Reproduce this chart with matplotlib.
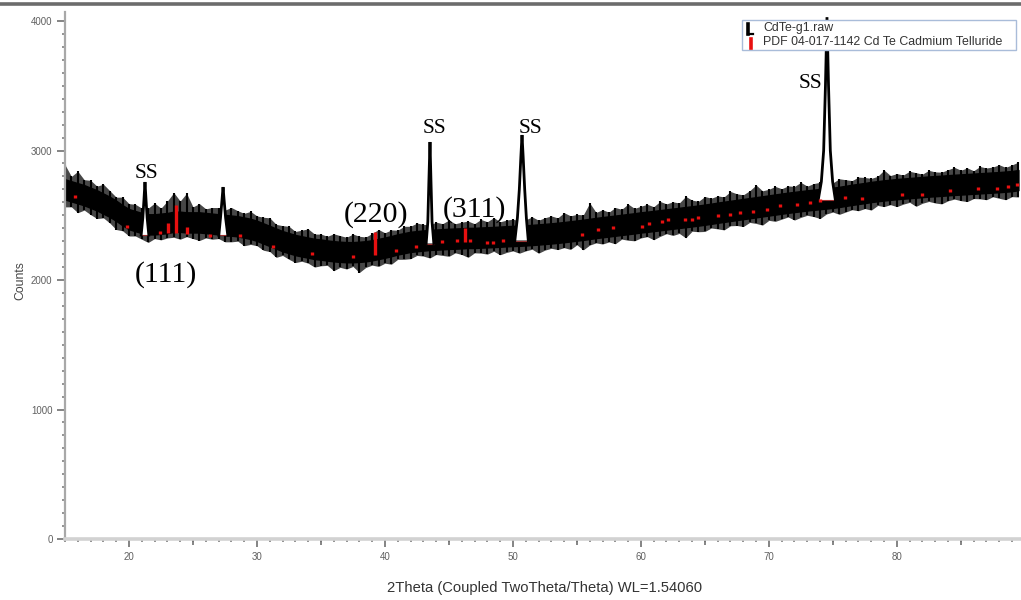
import numpy as np
import matplotlib
matplotlib.use("Agg")
import matplotlib.pyplot as plt
from matplotlib.lines import Line2D
from matplotlib.patches import Rectangle, Polygon
from matplotlib.ticker import MultipleLocator, FixedLocator
from matplotlib.transforms import offset_copy

plt.rcParams["font.family"] = ["Liberation Sans", "DejaVu Sans"]

# ---- measured pattern: CdTe-g1.raw -------------------------------------
# background level of the noisy scan, sampled every 0.5 deg from 15 deg
scan_start = 15.0
scan_step = 0.5
band_mid = [
    2700, 2685, 2670, 2655, 2635, 2615, 2590, 2565, 2535, 2500,
    2470, 2455, 2440, 2430, 2430, 2435, 2440, 2450, 2450, 2445,
    2445, 2445, 2440, 2435, 2430, 2425, 2420, 2415, 2405, 2395,
    2380, 2360, 2340, 2320, 2300, 2285, 2270, 2260, 2250, 2240,
    2235, 2228, 2222, 2218, 2215, 2215, 2218, 2222, 2230, 2240,
    2250, 2262, 2275, 2285, 2295, 2300, 2305, 2310, 2312, 2315,
    2318, 2320, 2322, 2325, 2325, 2328, 2330, 2332, 2335, 2338,
    2340, 2342, 2345, 2348, 2352, 2356, 2360, 2365, 2370, 2376,
    2382, 2388, 2395, 2402, 2408, 2414, 2420, 2426, 2432, 2438,
    2445, 2450, 2456, 2462, 2468, 2474, 2480, 2486, 2492, 2498,
    2505, 2512, 2520, 2527, 2534, 2541, 2548, 2555, 2562, 2569,
    2576, 2583, 2590, 2597, 2603, 2609, 2615, 2620, 2625, 2630,
    2635, 2642, 2650, 2658, 2665, 2672, 2680, 2686, 2692, 2697,
    2702, 2706, 2710, 2714, 2718, 2722, 2725, 2728, 2732, 2735,
    2738, 2741, 2744, 2747, 2750, 2753, 2756, 2760, 2764, 2772,
]
# upper / lower reach of the counting noise around that level
band_up = [
    190, 115, 170, 120, 135, 110, 150, 125, 105, 140,
    120, 130, 115, 125, 164, 120, 170, 225, 160, 225,
    120, 145, 110, 125, 130, 115, 140, 120, 110, 135,
    115, 125, 140, 110, 120, 130, 105, 125, 145, 115,
    120, 110, 135, 125, 115, 140, 120, 110, 130, 150,
    115, 125, 110, 130, 120, 140, 125, 115, 135, 120,
    145, 115, 125, 130, 110, 140, 120, 150, 115, 125,
    130, 115, 120, 140, 110, 125, 135, 115, 150, 120,
    125, 115, 200, 120, 135, 110, 140, 120, 155, 115,
    125, 135, 110, 145, 120, 130, 115, 160, 125, 110,
    140, 120, 130, 115, 150, 125, 110, 135, 172, 120,
    125, 140, 115, 130, 120, 145, 110, 125, 130, 120,
    115, 140, 125, 110, 130, 120, 105, 115, 157, 110,
    120, 105, 130, 115, 100, 125, 110, 105, 120, 135,
    110, 125, 100, 130, 115, 120, 134, 110, 125, 139,
]
band_dn = [
    135, 120, 150, 115, 130, 140, 110, 125, 145, 120,
    130, 115, 125, 140, 110, 125, 115, 120, 135, 110,
    125, 140, 115, 120, 110, 130, 125, 115, 140, 120,
    115, 130, 120, 145, 110, 125, 135, 115, 120, 140,
    125, 115, 150, 120, 130, 110, 160, 125, 115, 135,
    120, 140, 115, 125, 130, 110, 120, 140, 115, 125,
    135, 110, 125, 150, 115, 120, 130, 110, 140, 125,
    115, 135, 120, 110, 145, 125, 115, 130, 120, 140,
    110, 155, 125, 115, 130, 120, 140, 110, 125, 135,
    120, 115, 145, 125, 110, 130, 120, 160, 115, 125,
    130, 110, 125, 140, 115, 120, 135, 110, 125, 145,
    115, 130, 120, 110, 140, 125, 115, 130, 150, 120,
    110, 135, 125, 115, 130, 120, 140, 110, 125, 115,
    135, 120, 110, 145, 125, 115, 130, 140, 120, 110,
    125, 135, 115, 120, 130, 110, 125, 140, 120, 131,
]
# half-width of the solid core of the noise band
core_half = 78

# sharp reflections (2theta, counts) rising out of the background
ss1_tt = [20.95, 21.08, 21.17, 21.25, 21.33, 21.42, 21.55]
ss1_counts = [2347, 2480, 2620, 2757, 2620, 2480, 2347]
p27_tt = [27.02, 27.15, 27.27, 27.35, 27.43, 27.55, 27.72]
p27_counts = [2345, 2480, 2620, 2718, 2620, 2480, 2345]
ss2_tt = [43.22, 43.35, 43.43, 43.52, 43.60, 43.68, 43.82]
ss2_counts = [2282, 2450, 2750, 3066, 2750, 2450, 2282]
ss3_tt = [50.15, 50.35, 50.50, 50.62, 50.71, 50.80, 50.92, 51.05, 51.20]
ss3_counts = [2305, 2480, 2700, 2950, 3120, 2950, 2700, 2480, 2305]
ss4_tt = [73.85, 74.10, 74.28, 74.42, 74.54, 74.66, 74.80, 74.98, 75.20]
ss4_counts = [2615, 2760, 3000, 3500, 4030, 3500, 3000, 2760, 2615]

# ---- reference pattern: PDF 04-017-1142 CdTe -----------------------------
pdf_tt = [15.78, 19.84, 22.42, 23.05, 23.67, 24.53, 26.33, 28.67, 31.25,
          34.30, 37.50, 39.22, 40.86, 42.43, 44.46, 45.63, 46.26, 46.65,
          47.98, 48.44, 49.23, 55.40, 56.65, 57.82, 60.09, 60.64, 61.65,
          62.12, 63.45, 63.99, 64.46, 66.03, 66.96, 67.74, 68.76, 69.85,
          70.87, 72.20, 73.22, 74.00, 75.95, 77.28, 80.40, 81.97, 84.15,
          86.34, 87.83, 88.69, 89.40]
pdf_base = [2633, 2402, 2355, 2363, 2363, 2355, 2332, 2332, 2247,
            2193, 2170, 2193, 2216, 2247, 2286, 2293, 2293, 2293,
            2278, 2278, 2293, 2340, 2378, 2394, 2402, 2425, 2440,
            2456, 2456, 2456, 2471, 2486, 2494, 2510, 2517, 2533,
            2564, 2571, 2587, 2602, 2625, 2618, 2649, 2649, 2680,
            2695, 2695, 2710, 2726]
pdf_height = [25, 25, 25, 77, 216, 54, 25, 25, 25,
              25, 25, 177, 25, 25, 25, 25, 108, 25,
              25, 25, 25, 25, 25, 25, 25, 25, 25,
              25, 25, 25, 25, 25, 25, 25, 25, 25,
              25, 25, 25, 25, 25, 25, 25, 25, 25,
              25, 25, 25, 25]

# peak labels
label_text = ["SS", "(111)", "(220)", "SS", "(311)", "SS", "SS"]
label_tt = [21.33, 22.89, 39.30, 43.91, 46.96, 51.41, 73.29]
label_counts = [2788, 1985, 2448, 3135, 2486, 3135, 3483]

x_ticks = [20, 30, 40, 50, 60, 70, 80]
y_ticks = [0, 1000, 2000, 3000, 4000]

# ---- figure ----------------------------------------------------------------
W, H = 1021, 600
fig = plt.figure(figsize=(W / 100, H / 100), dpi=100)
fig.patch.set_facecolor("white")


def fx(px):
    return px / W


def fy(py):
    return 1 - py / H


ax = fig.add_axes([fx(65), fy(539), fx(956), 527 / H])
ax.set_xlim(15.0, 89.70)
ax.set_ylim(0, 4070)

tt = scan_start + scan_step * np.arange(len(band_mid))
mid = np.array(band_mid, dtype=float)
hi = mid + np.array(band_up)
lo = mid - np.array(band_dn)
# dark fringe of the noise, the dense core, and the individual spikes
ax.fill_between(tt, lo, hi, color="black", alpha=0.72, lw=0, zorder=1)
ax.fill_between(tt, mid - core_half, mid + core_half, color="black", lw=1.0,
                edgecolor="black", zorder=2)
ax.vlines(tt, lo, hi, color="black", lw=1.5, zorder=2)

peaks = [(ss1_tt, ss1_counts), (p27_tt, p27_counts), (ss2_tt, ss2_counts),
         (ss3_tt, ss3_counts), (ss4_tt, ss4_counts)]
for ptt, pct in peaks:
    ax.add_patch(Polygon(np.column_stack([ptt, pct]), closed=True,
                         facecolor="white", edgecolor="none", zorder=3))
    ax.plot([ptt[0], ptt[-1]], [pct[0], pct[-1]], color="#9a3030",
            lw=0.8, zorder=4)
    ax.plot(ptt, pct, color="black", lw=2.0, solid_joinstyle="miter",
            zorder=5)

pdf_top = np.array(pdf_base) + np.array(pdf_height)
ax.vlines(pdf_tt, pdf_base, pdf_top, color="#e81010", lw=2.4, zorder=6)

for txt, x, y in zip(label_text, label_tt, label_counts):
    ax.text(x, y, txt, ha="center", va="baseline",
            fontsize=15.5 if txt == "SS" else 21.5,
            family=["Liberation Serif", "DejaVu Serif"], color="black",
            zorder=7)

# axes styling
for side in ("top", "right"):
    ax.spines[side].set_visible(False)
ax.spines["left"].set_color("#a8a8a8")
ax.spines["left"].set_linewidth(1.6)
ax.spines["bottom"].set_color("#d2d2d2")
ax.spines["bottom"].set_linewidth(2.6)

ax.xaxis.set_major_locator(FixedLocator(x_ticks))
ax.xaxis.set_minor_locator(MultipleLocator(1))
ax.yaxis.set_major_locator(FixedLocator(y_ticks))
ax.yaxis.set_minor_locator(MultipleLocator(100))
ax.tick_params(axis="both", which="major", direction="out", length=6,
               width=1.2, color="#707070", labelsize=7, labelcolor="#606060",
               pad=3)
ax.tick_params(axis="both", which="minor", direction="out", length=2.2,
               width=1.2, color="#808080")

# intermediate ticks at the half decades
half = offset_copy(ax.get_xaxis_transform(), fig=fig, y=-2.5, units="dots")
ax.plot([25, 35, 45, 55, 65, 75, 85], [0] * 7, ls="none", marker="|",
        markersize=4, mew=1.2, color="#707070", transform=half, clip_on=False)

fig.text(fx(20), fy(281), "Counts", rotation=90, ha="center", va="center",
         fontsize=8.8, color="#444444")
fig.text(fx(545), fy(588), "2Theta (Coupled TwoTheta/Theta) WL=1.54060",
         ha="center", va="center", fontsize=10.6, color="#333333")

# window frame line along the top
fig.add_artist(Line2D([0, 1], [fy(3.5), fy(3.5)], transform=fig.transFigure,
                      color="#6c6c6c", lw=2.6))

# legend box
fig.add_artist(Rectangle((fx(742), fy(50)), fx(274), 30 / H,
                         transform=fig.transFigure, facecolor="white",
                         edgecolor="#a9bcd9", lw=1.0, zorder=10))
fig.add_artist(Line2D([fx(748), fx(748)], [fy(24), fy(34)],
                      transform=fig.transFigure, color="black", lw=2.6,
                      zorder=11))
fig.add_artist(Line2D([fx(748), fx(752.5)], [fy(33.5), fy(33.5)],
                      transform=fig.transFigure, color="black", lw=1.6,
                      zorder=11))
fig.add_artist(Line2D([fx(750.5), fx(750.5)], [fy(39), fy(47.5)],
                      transform=fig.transFigure, color="#e81010", lw=2.6,
                      zorder=11))
fig.text(fx(763), fy(28), "CdTe-g1.raw", ha="left", va="center",
         fontsize=8.9, color="#333333", zorder=12)
fig.text(fx(763), fy(42), "PDF 04-017-1142 Cd Te Cadmium Telluride",
         ha="left", va="center", fontsize=8.9, color="#333333", zorder=12)

fig.savefig("out.png", dpi=100, facecolor="white")
